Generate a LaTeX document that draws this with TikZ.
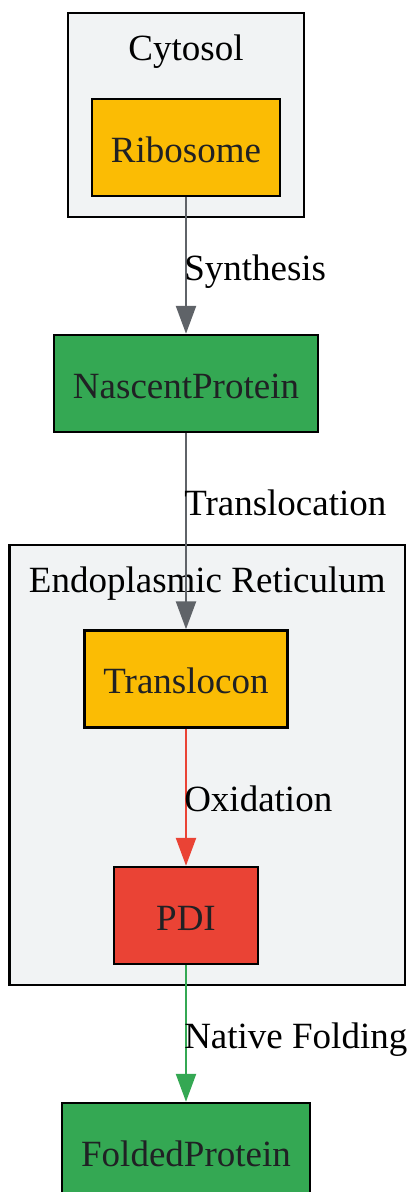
\documentclass[tikz,border=0pt]{standalone}
\usepackage{fontspec}
\setmainfont{Liberation Serif}
\usepackage{xcolor}
\usetikzlibrary{shapes,arrows.meta,positioning,calc}

\definecolor{gyellow}{HTML}{FBBC04}
\definecolor{ggreen}{HTML}{34A853}
\definecolor{gred}{HTML}{EA4335}
\definecolor{ggray}{HTML}{5F6368}
\definecolor{gpanel}{HTML}{F1F3F4}
\definecolor{gtext}{HTML}{202124}

\begin{document}
\begin{tikzpicture}[
    x=1pt,y=-1pt,
    box/.style={rectangle, draw=black, line width=2.5pt, minimum width=144pt, minimum height=97pt,
        inner xsep=19pt, text=gtext, font=\fontsize{37}{44}\selectfont, text height=29pt, text depth=0pt},
    cluster/.style={rectangle, draw=black, line width=2.5pt, fill=gpanel, inner sep=0pt},
    title/.style={font=\fontsize{37}{44}\selectfont, anchor=base, inner sep=0pt},
    lbl/.style={font=\fontsize{37}{44}\selectfont, anchor=west, inner sep=0pt, xshift=-3pt,
        text height=29pt, text depth=0pt},
    flow/.style={line width=2.5pt, -{Triangle[length=28pt,width=20pt]}}
]
    \useasboundingbox (0,0) rectangle (410,1192);

    % Compartments
    \node[cluster, minimum width=236pt, minimum height=204pt] (cytosol) at (186,115) {};
    \node[title] (cytosoltitle) at (186,60) {Cytosol};
    \node[cluster, minimum width=395.5pt, minimum height=440pt] (er) at (207.25,765) {};
    \node[title] (ertitle) at (207.25,592) {Endoplasmic Reticulum};

    % Steps
    \node[box, fill=gyellow] (ribosome) at (186,147.5) {Ribosome};
    \node[box, fill=ggreen] (nascent) at (186,383.5) {NascentProtein};
    \node[box, fill=gyellow] (translocon) at (186,679) {Translocon};
    \node[box, fill=gred] (pdi) at (186,915.5) {PDI};
    \node[box, fill=ggreen] (folded) at (186,1151.5) {FoldedProtein};

    % Transitions
    \draw[flow, ggray] (ribosome) -- node[lbl, text=black] {Synthesis} (nascent);
    \draw[flow, ggray] (nascent) -- node[lbl, pos=0.344, text=black] {Translocation} (translocon);
    \draw[flow, gred] (translocon) -- node[lbl, text=black] {Oxidation} (pdi);
    \draw[flow, ggreen] (pdi) -- node[lbl, text=black] {Native Folding} (folded);
\end{tikzpicture}
\end{document}
